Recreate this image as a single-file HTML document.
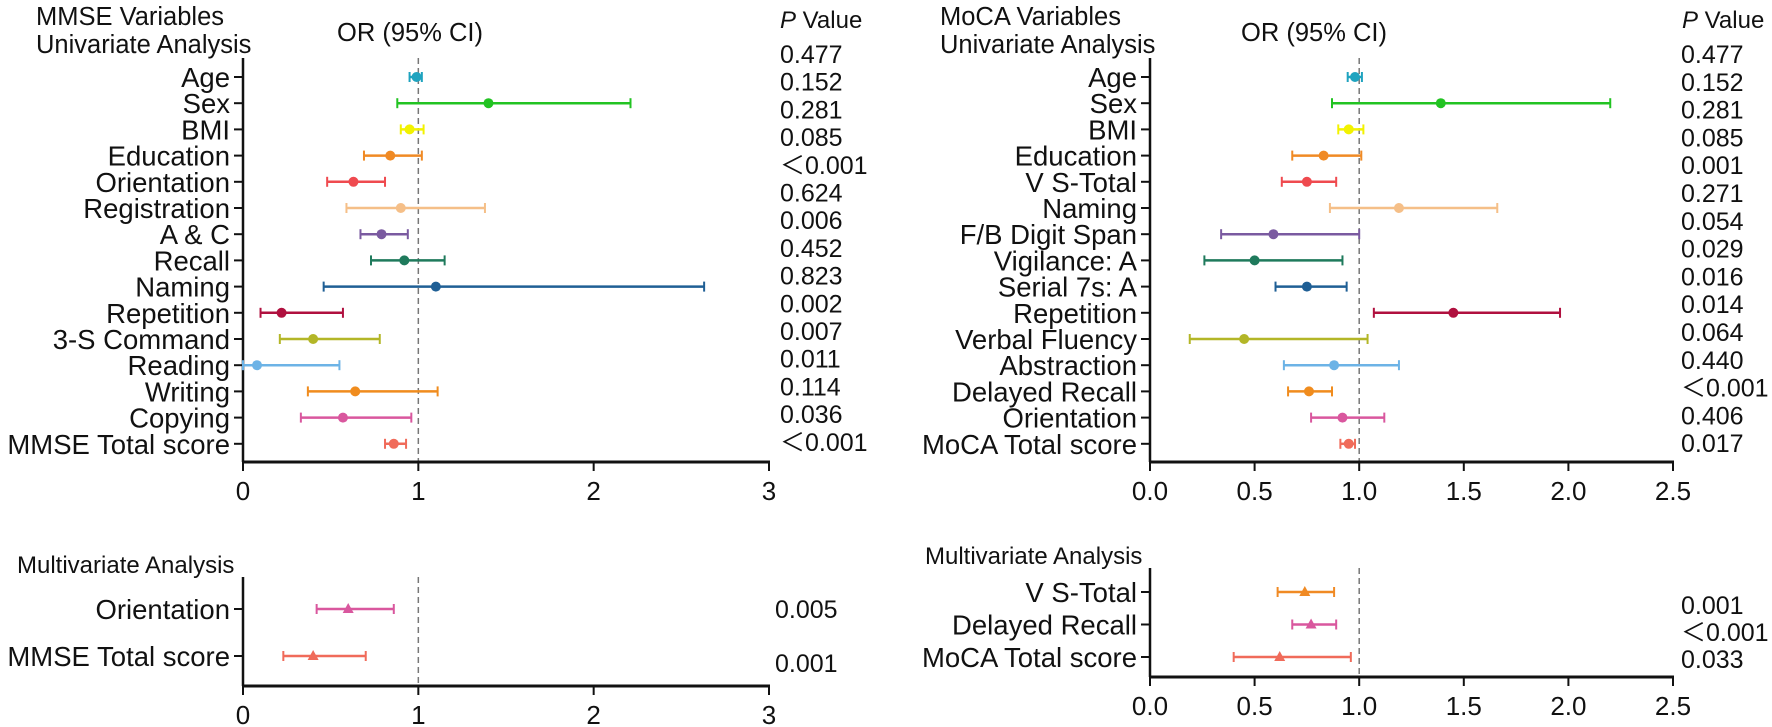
<!DOCTYPE html>
<html><head><meta charset="utf-8"><style>
html,body{margin:0;padding:0;background:#fff;}
svg{display:block;font-family:"Liberation Sans",Arial,sans-serif;}
</style></head><body>
<svg id="chart" width="1772" height="727" viewBox="0 0 1772 727" xmlns="http://www.w3.org/2000/svg"></svg>
<script>
// ---------- Data ----------
const mmseCats = ["Age","Sex","BMI","Education","Orientation","Registration","A & C","Recall","Naming","Repetition","3-S Command","Reading","Writing","Copying","MMSE Total score"];
const mmseOR   = [0.99,1.40,0.95,0.84,0.63,0.90,0.79,0.92,1.10,0.22,0.40,0.08,0.64,0.57,0.86];
const mmseLo   = [0.95,0.88,0.90,0.69,0.48,0.59,0.67,0.73,0.46,0.10,0.21,0.00,0.37,0.33,0.81];
const mmseHi   = [1.02,2.21,1.03,1.02,0.81,1.38,0.94,1.15,2.63,0.57,0.78,0.55,1.11,0.96,0.93];
const mmseP    = ["0.477","0.152","0.281","0.085","<0.001","0.624","0.006","0.452","0.823","0.002","0.007","0.011","0.114","0.036","<0.001"];

const mocaCats = ["Age","Sex","BMI","Education","V S-Total","Naming","F/B Digit Span","Vigilance: A","Serial 7s: A","Repetition","Verbal Fluency","Abstraction","Delayed Recall","Orientation","MoCA Total score"];
const mocaOR   = [0.98,1.39,0.95,0.83,0.75,1.19,0.59,0.50,0.75,1.45,0.45,0.88,0.76,0.92,0.95];
const mocaLo   = [0.945,0.87,0.90,0.68,0.63,0.86,0.34,0.26,0.60,1.07,0.19,0.64,0.66,0.77,0.91];
const mocaHi   = [1.013,2.20,1.02,1.01,0.89,1.66,1.00,0.92,0.94,1.96,1.04,1.19,0.87,1.12,0.98];
const mocaP    = ["0.477","0.152","0.281","0.085","0.001","0.271","0.054","0.029","0.016","0.014","0.064","0.440","<0.001","0.406","0.017"];

const mmseMultiCats = ["Orientation","MMSE Total score"];
const mmseMultiOR   = [0.60,0.40];
const mmseMultiLo   = [0.42,0.23];
const mmseMultiHi   = [0.86,0.70];
const mmseMultiP    = ["0.005","0.001"];

const mocaMultiCats = ["V S-Total","Delayed Recall","MoCA Total score"];
const mocaMultiOR   = [0.74,0.77,0.62];
const mocaMultiLo   = [0.61,0.68,0.40];
const mocaMultiHi   = [0.88,0.89,0.96];
const mocaMultiP    = ["0.001","<0.001","0.033"];

const mmseTicks = ["0","1","2","3"];
const mocaTicks = ["0.0","0.5","1.0","1.5","2.0","2.5"];

const colorsMMSE = ["#1fa3bf","#22c322","#f2f200","#f08a24","#ef4a4f","#f5bf88","#7a5aa0","#1f7a5c","#1f5f95","#b0103f","#b3b627","#6cb3e6","#f08c1e","#d9579e","#f06b5a"];
const colorsMoCA = ["#1fa3bf","#22c322","#f2f200","#f08a24","#ef4a4f","#f5bf88","#7a5aa0","#1f7a5c","#1f5f95","#b0103f","#b3b627","#6cb3e6","#f08c1e","#d9579e","#f06b5a"];

const svg = document.getElementById('chart');
const NS = "http://www.w3.org/2000/svg";
function mk(tag, attrs, parent){const e=document.createElementNS(NS,tag);for(const k in attrs)e.setAttribute(k,attrs[k]);(parent||svg).appendChild(e);return e;}
function txt(s,x,y,size,anchor,parent){const t=mk('text',{x:x,y:y,'font-size':size,'text-anchor':anchor||'start',fill:'#111'},parent);t.textContent=s;return t;}

function panel(o){
  const g=mk('g',{});
  
  
  const xs=v=>o.x0+(v-o.vmin)/(o.vmax-o.vmin)*(o.x1-o.x0);
  const ys=i=>o.yFirst+i*o.step;
  const ref=mk('line',{x1:xs(1),x2:xs(1),y1:o.yTop,y2:o.yAxis,stroke:'#777','stroke-width':1.5,'stroke-dasharray':'6,4'},g);
  
  
  const ya=mk('line',{x1:o.x0,x2:o.x0,y1:o.yTop,y2:o.yAxis,stroke:'#111','stroke-width':2.5},g);
  
  
  const xa=mk('line',{x1:o.x0-1,x2:o.x1+1,y1:o.yAxis,y2:o.yAxis,stroke:'#111','stroke-width':3},g);
  
  
  o.ticks.forEach((t,i)=>{
    const v=parseFloat(t);
    mk('line',{x1:xs(v),x2:xs(v),y1:o.yAxis,y2:o.yAxis+9,stroke:'#111','stroke-width':2},g);
    const tl=txt(t,xs(v),o.yAxis+38,26,'middle',g);
    
    
  });
  o.cats.forEach((c,i)=>{
    const y=ys(i);
    mk('line',{x1:o.x0-9,x2:o.x0,y1:y,y2:y,stroke:'#111','stroke-width':2},g);
    const l=txt(c,o.x0-13,y+10,o.labelSize,'end',g);
    
    
    const col=o.colors[i];
    const lo=xs(o.lo[i]),hi=xs(o.hi[i]),m=xs(o.or[i]);
    const ci=mk('line',{x1:lo,x2:hi,y1:y,y2:y,stroke:col,'stroke-width':2.5},g);
    
    
    mk('line',{x1:lo,x2:lo,y1:y-5,y2:y+5,stroke:col,'stroke-width':2},g);
    mk('line',{x1:hi,x2:hi,y1:y-5,y2:y+5,stroke:col,'stroke-width':2},g);
    let pt;
    if(o.tri) pt=mk('polygon',{points:`${m},${y-6} ${m-5.5},${y+4} ${m+5.5},${y+4}`,fill:col},g);
    else pt=mk('circle',{cx:m,cy:y,r:5,fill:col},g);
    
    
  });
  o.p.forEach((p,i)=>{
    const s=p.replace('<','\uFF1C');
    const pt=txt(s,o.px,o.pFirst+i*o.pStep+9,25,'start',g);
    
    
  });
}

panel({name:'mmse-univariate-panel',cats:mmseCats,or:mmseOR,lo:mmseLo,hi:mmseHi,p:mmseP,colors:colorsMMSE,ticks:mmseTicks,vmin:0,vmax:3,x0:243,x1:769,yTop:58,yAxis:462,yFirst:77,step:26.2,labelSize:27.5,px:780,pFirst:54,pStep:27.7});
panel({name:'moca-univariate-panel',cats:mocaCats,or:mocaOR,lo:mocaLo,hi:mocaHi,p:mocaP,colors:colorsMoCA,ticks:mocaTicks,vmin:0,vmax:2.5,x0:1150,x1:1673,yTop:58,yAxis:462,yFirst:77,step:26.2,labelSize:27.5,px:1681,pFirst:54,pStep:27.8});
panel({name:'mmse-multivariate-panel',cats:mmseMultiCats,or:mmseMultiOR,lo:mmseMultiLo,hi:mmseMultiHi,p:mmseMultiP,colors:["#d9579e","#f06b5a"],tri:true,ticks:mmseTicks,vmin:0,vmax:3,x0:243,x1:769,yTop:577,yAxis:686,yFirst:609,step:47,labelSize:27.5,px:775,pFirst:609,pStep:54});
panel({name:'moca-multivariate-panel',cats:mocaMultiCats,or:mocaMultiOR,lo:mocaMultiLo,hi:mocaMultiHi,p:mocaMultiP,colors:["#f08a24","#d9579e","#f06b5a"],tri:true,ticks:mocaTicks,vmin:0,vmax:2.5,x0:1150,x1:1673,yTop:568,yAxis:677,yFirst:592,step:32.5,labelSize:27.5,px:1681,pFirst:605,pStep:27});

function hdr(s,x,y,size,name,anchor){const t=txt(s,x,y,size,anchor||'start');return t;}
hdr("MMSE Variables",36,25,25.5,'mmse-title-line1');
hdr("Univariate Analysis",36,53,25.5,'mmse-title-line2');
hdr("OR (95% CI)",337,41,25.5,'mmse-or-header');
const pv1=hdr("",780,28,24,'mmse-p-header');pv1.innerHTML='<tspan font-style="italic">P</tspan> Value';
hdr("MoCA Variables",940,25,25.5,'moca-title-line1');
hdr("Univariate Analysis",940,53,25.5,'moca-title-line2');
hdr("OR (95% CI)",1241,41,25.5,'moca-or-header');
const pv2=hdr("",1682,28,24,'moca-p-header');pv2.innerHTML='<tspan font-style="italic">P</tspan> Value';
hdr("Multivariate Analysis",17,573,24,'mmse-multivariate-title');
hdr("Multivariate Analysis",925,564,24,'moca-multivariate-title');
</script>
</body></html>
